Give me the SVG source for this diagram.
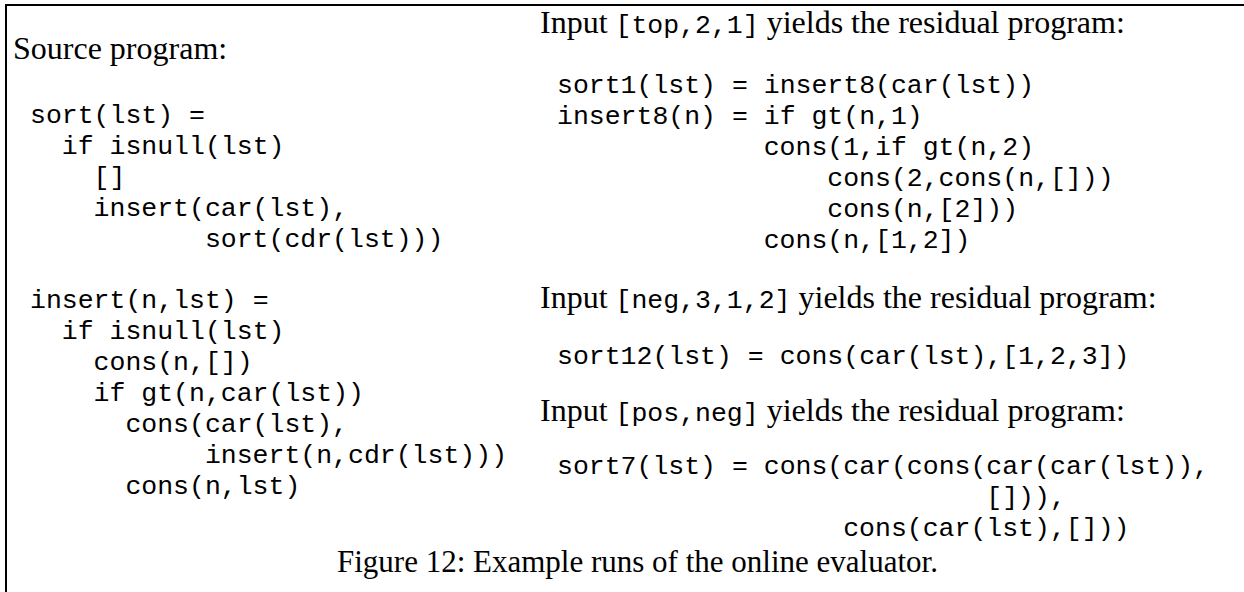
<svg xmlns="http://www.w3.org/2000/svg" width="1244" height="592" viewBox="0 0 1244 592">
  <style>
    .serif { font-family: "Liberation Serif", "Times New Roman", serif; font-size: 32px; fill: #000; }
    .cap { font-family: "Liberation Serif", "Times New Roman", serif; font-size: 31px; fill: #000; }
    .mono { font-family: "Liberation Mono", "Courier New", monospace; font-size: 26.5px; fill: #000; }
    .frame { fill: none; stroke: #000; stroke-width: 2; stroke-linejoin: miter; }
  </style>
  <rect width="1244" height="592" fill="#fff"/>
  <path class="frame" d="M6,592 V5 H1244"/>

  <g id="source-program">
    <text class="serif" x="13" y="59">Source program:</text>
    <text class="mono" x="30" y="123">sort(lst) =</text>
    <text class="mono" x="61.8" y="153.9">if isnull(lst)</text>
    <text class="mono" x="93.6" y="184.8">[]</text>
    <text class="mono" x="93.6" y="215.7">insert(car(lst),</text>
    <text class="mono" x="204.9" y="246.6">sort(cdr(lst)))</text>
    <text class="mono" x="30" y="308.4">insert(n,lst) =</text>
    <text class="mono" x="61.8" y="339.3">if isnull(lst)</text>
    <text class="mono" x="93.6" y="370.2">cons(n,[])</text>
    <text class="mono" x="93.6" y="401.1">if gt(n,car(lst))</text>
    <text class="mono" x="125.4" y="432">cons(car(lst),</text>
    <text class="mono" x="204.9" y="462.9">insert(n,cdr(lst)))</text>
    <text class="mono" x="125.4" y="493.8">cons(n,lst)</text>
  </g>

  <g id="run-top">
    <text class="serif" x="540" y="33">Input <tspan class="mono">[top,2,1]</tspan> yields the residual program:</text>
    <text class="mono" x="557" y="93">sort1(lst) = insert8(car(lst))</text>
    <text class="mono" x="557" y="124">insert8(n) = if gt(n,1)</text>
    <text class="mono" x="763.7" y="155">cons(1,if gt(n,2)</text>
    <text class="mono" x="827.3" y="186">cons(2,cons(n,[]))</text>
    <text class="mono" x="827.3" y="217">cons(n,[2]))</text>
    <text class="mono" x="763.7" y="248">cons(n,[1,2])</text>
  </g>

  <g id="run-neg">
    <text class="serif" x="540" y="308">Input <tspan class="mono">[neg,3,1,2]</tspan> yields the residual program:</text>
    <text class="mono" x="557" y="364">sort12(lst) = cons(car(lst),[1,2,3])</text>
  </g>

  <g id="run-pos">
    <text class="serif" x="540" y="421">Input <tspan class="mono">[pos,neg]</tspan> yields the residual program:</text>
    <text class="mono" x="557" y="474">sort7(lst) = cons(car(cons(car(car(lst)),</text>
    <text class="mono" x="986.3" y="505">[])),</text>
    <text class="mono" x="843.2" y="536">cons(car(lst),[]))</text>
  </g>

  <g id="caption">
    <text class="cap" x="337" y="572">Figure 12: Example runs of the online evaluator.</text>
  </g>
</svg>
